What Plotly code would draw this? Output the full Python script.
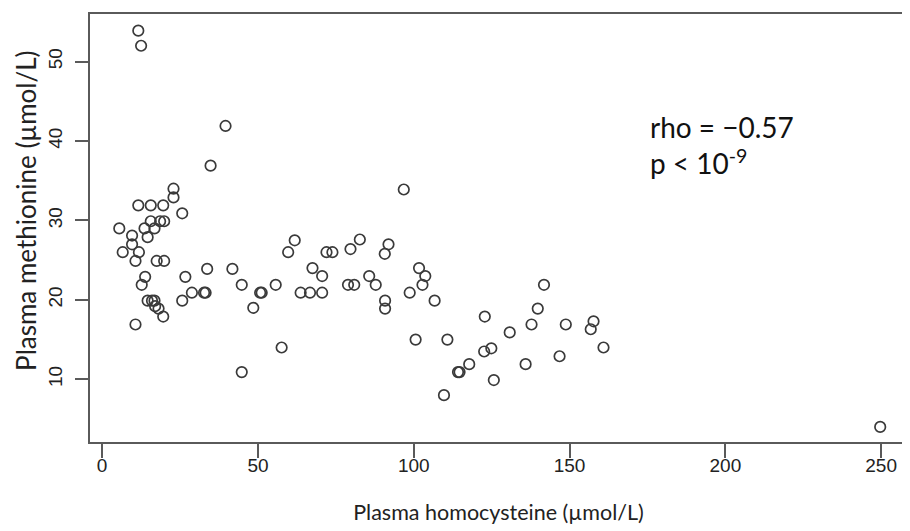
import plotly.graph_objects as go

# Plasma homocysteine (x) and plasma methionine (y), µmol/L
homocysteine = [
    11.6, 12.5, 39.6, 34.8, 22.9, 22.9, 11.6, 15.6, 19.6, 25.7,
    15.6, 18.6, 19.9, 5.5, 13.6, 16.8, 9.6, 14.6, 9.6, 6.6,
    11.8, 10.7, 17.5, 19.9, 33.7, 41.8, 26.7, 13.8, 12.7, 44.8,
    50.7, 28.8, 32.7, 33.2, 14.6, 16.8, 25.7, 18.1, 19.6, 48.5,
    10.7, 44.8, 96.8, 61.8, 59.7, 72.0, 73.9, 79.7, 82.7, 91.9,
    90.7, 67.5, 70.6, 55.7, 51.2, 63.7, 66.7, 70.6, 78.9, 80.9,
    85.7, 87.8, 90.8, 90.8, 101.7, 103.7, 102.8, 98.7, 106.7, 57.6,
    100.6, 110.8, 114.2, 109.7, 141.8, 139.8, 122.8, 137.8, 148.8, 157.7,
    156.8, 130.8, 160.9, 122.6, 124.9, 117.8, 114.7, 125.7, 135.9, 146.8,
    249.7, 17.0, 16.0,
]
methionine = [
    53.9, 52.0, 41.9, 36.9, 34.0, 32.9, 31.9, 31.9, 31.9, 30.9,
    29.9, 29.9, 29.9, 29.0, 29.0, 29.0, 28.1, 27.9, 27.0, 26.0,
    26.0, 24.9, 24.9, 24.9, 23.9, 23.9, 22.9, 22.9, 21.9, 21.9,
    20.9, 20.9, 20.9, 20.9, 19.9, 19.9, 19.9, 18.9, 17.9, 19.0,
    16.9, 10.9, 33.9, 27.5, 26.0, 26.0, 26.0, 26.4, 27.6, 27.0,
    25.8, 24.0, 23.0, 21.9, 20.9, 20.9, 20.9, 20.9, 21.9, 21.9,
    23.0, 21.9, 19.9, 18.9, 24.0, 23.0, 21.9, 20.9, 19.9, 14.0,
    15.0, 15.0, 10.9, 8.0, 21.9, 18.9, 17.9, 16.9, 16.9, 17.3,
    16.3, 15.9, 14.0, 13.5, 13.9, 11.9, 10.9, 9.9, 11.9, 12.9,
    4.0, 19.2, 19.9,
]

x_ticks = [0, 50, 100, 150, 200, 250]
y_ticks = [10, 20, 30, 40, 50]

fig = go.Figure()
fig.add_trace(go.Scatter(
    x=homocysteine, y=methionine, mode="markers",
    marker=dict(symbol="circle-open", size=10.5, color="#3a3a3a",
                line=dict(width=1.7, color="#3a3a3a")),
    hoverinfo="x+y", showlegend=False,
))

axis_common = dict(
    showgrid=False, zeroline=False, showline=True, mirror=True,
    linecolor="#5a5a5a", linewidth=1.6, ticks="outside",
    tickcolor="#5a5a5a", tickwidth=1.6,
    tickfont=dict(family="Liberation Sans Narrow, Liberation Sans, Arial", size=19, color="#222"),
)

fig.update_xaxes(
    range=[-3.9, 258.3], tickvals=x_ticks, ticklen=14,
    title=dict(text="Plasma homocysteine (µmol/L)", standoff=30,
               font=dict(family="Lato, Open Sans, sans-serif", size=21.5, color="#222")),
    **axis_common,
)
try:
    fig.update_xaxes(ticklabelstandoff=-9)
except ValueError:
    fig.update_xaxes(ticklen=10, title_standoff=24)

fig.update_yaxes(
    range=[2.1, 56.0], tickvals=y_ticks, ticklen=13, tickangle=-90,
    ticklabelstandoff=6,
    **axis_common,
)

# y-axis title, placed as rotated text left of the tick labels
fig.add_annotation(
    x=-0.0783, y=0.54, xref="paper", yref="paper", xanchor="center", yanchor="middle",
    text="Plasma methionine (µmol/L)", textangle=-90, showarrow=False,
    font=dict(family="Lato, Open Sans, sans-serif", size=26, color="#222"),
)

fig.add_annotation(
    x=0.683, y=0.694, xref="paper", yref="paper", xanchor="left", yanchor="middle",
    text="rho = −0.57<br>p < 10<sup>-9</sup>", showarrow=False, align="left",
    font=dict(family="Lato, Open Sans, sans-serif", size=28, color="#111"),
)

# margins compensate for the page's default 8px body offset
fig.update_layout(
    width=910, height=531,
    margin=dict(l=82, r=11, t=4, b=97),
    paper_bgcolor="white", plot_bgcolor="white",
)

fig.write_html("out.html")
